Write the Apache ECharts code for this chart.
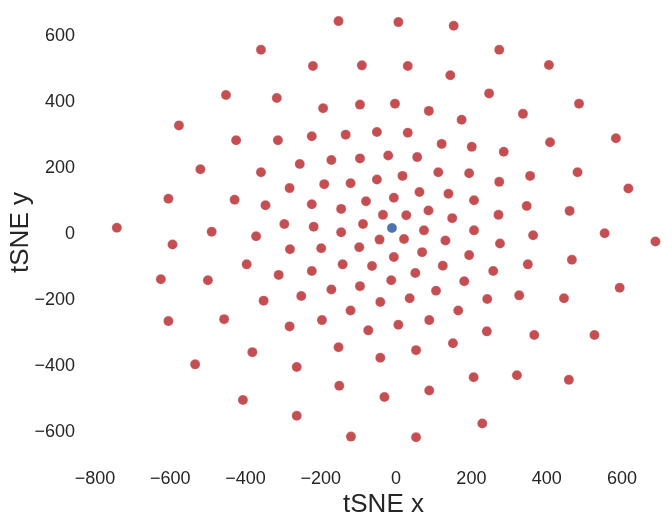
<!DOCTYPE html>
<html>
<head>
<meta charset="utf-8">
<script src="https://cdn.jsdelivr.net/npm/echarts@6/dist/echarts.min.js"></script>
<style>html,body{margin:0;padding:0;background:#fff}#c{width:672px;height:520px}</style>
</head>
<body>
<div id="c"></div>
<script>
// Red series (tSNE coordinates)
const redX = [-359,-452,-317,-577,-425,-314,-153,6,153,-221,-91,31,144,247,-194,-96,-3,87,174,-224,-134,-51,31,121,201,
  274,406,486,337,584,409,286,-256,-172,-96,-21,56,112,194,482,356,274,617,207,347,461,272,207,554,689,364,276,194,467,350,258,594,327,242,446,
  241,367,527,206,321,459,229,
  -283,-191,-121,-51,17,62,139,-224,-146,-80,-6,86,-35,27,149,-219,-146,-88,74,-44,21,131,-282,-199,-98,-6,69,-224,-142,-64,51,124,-172,-96,-13,181,-252,106,36,-42,
  -121,165,-283,-197,-74,6,88,-153,-42,53,151,-264,-151,-31,88,-264,-120,53,
  -520,-359,-605,-429,-347,-297,-742,-490,-372,-594,-397,-312,-625,-500,-352,-605,-457,-382,-534,-407];
const redY = [558,421,412,329,284,284,645,642,631,509,511,509,481,426,381,392,395,373,346,296,301,309,307,273,264,
  558,512,395,364,290,278,249,212,224,229,238,233,187,184,187,176,158,138,102,85,70,58,11,2,-23,-4,-29,-64,-78,-92,-112,-163,-186,-197,-195,
  -295,-306,-306,-434,-428,-442,-574,
  139,151,154,165,176,127,122,90,76,99,110,71,58,57,48,22,5,30,11,-17,-15,-20,-46,-43,-40,-70,-55,-112,-92,-97,-118,-96,-168,-158,-140,-143,-188,-172,-195,-206,
  -232,-232,-280,-261,-292,-275,-261,-343,-375,-352,-331,-403,-460,-494,-474,-551,-614,-616,
  196,187,107,104,87,30,19,7,-7,-32,-92,-124,-137,-140,-202,-264,-258,-358,-395,-503];
// Blue series
const blueX = [-11];
const blueY = [18];

const xTicks = [-800,-600,-400,-200,0,200,400,600];
const yTicks = [-600,-400,-200,0,200,400,600];

const redData = redX.map((x,i)=>[x, redY[i]]);
const blueData = blueX.map((x,i)=>[x, blueY[i]]);

const chart = echarts.init(document.getElementById('c'), null, {renderer:'canvas'});
const font = 'Liberation Sans, Arial, Helvetica, sans-serif';
const fmt = ticks => v => ticks.indexOf(v)>=0 ? (v<0?'\u2212'+Math.abs(v):String(v)) : '';
chart.setOption({
  animation:false,
  backgroundColor:'#ffffff',
  grid:{left:95, right:0, top:0, bottom:55, containLabel:false, outerBoundsMode:'none'},
  xAxis:{
    type:'value', min:-800, max:733, interval:100,
    axisLine:{show:false}, axisTick:{show:false}, splitLine:{show:false},
    axisLabel:{fontSize:18, color:'#262626', fontFamily:font, margin:5, formatter:fmt(xTicks)},
    name:'tSNE x', nameLocation:'middle', nameGap:27, nameMoveOverlap:false,
    nameTextStyle:{fontSize:26, color:'#262626', fontFamily:font}
  },
  yAxis:{
    type:'value', min:-700, max:709, interval:100,
    axisLine:{show:false}, axisTick:{show:false}, splitLine:{show:false},
    axisLabel:{fontSize:18, color:'#262626', fontFamily:font, margin:20, formatter:fmt(yTicks)},
    name:'tSNE y', nameLocation:'middle', nameGap:61, nameMoveOverlap:false,
    nameTextStyle:{fontSize:26, color:'#262626', fontFamily:font}
  },
  series:[
    {type:'scatter', data:redData, symbolSize:10, clip:false,
     itemStyle:{color:'#c44e52', opacity:1, borderColor:'rgba(255,255,255,0.5)', borderWidth:0.5}},
    {type:'scatter', data:blueData, symbolSize:10, clip:false,
     itemStyle:{color:'#4c72b0', opacity:1, borderColor:'rgba(255,255,255,0.5)', borderWidth:0.5}}
  ]
});
</script>
</body>
</html>
